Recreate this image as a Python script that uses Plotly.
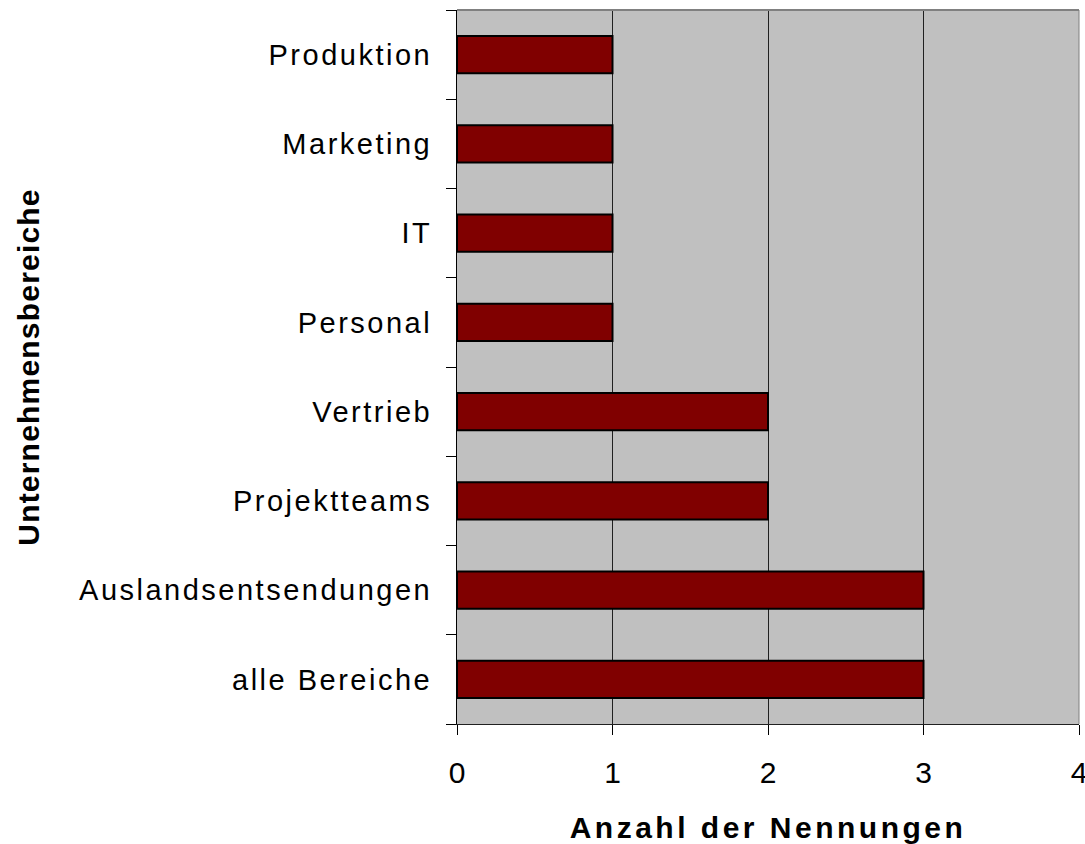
import plotly.graph_objects as go

# Company areas (bottom to top) and number of mentions
bereiche = [
    "alle Bereiche",
    "Auslandsentsendungen",
    "Projektteams",
    "Vertrieb",
    "Personal",
    "IT",
    "Marketing",
    "Produktion",
]
nennungen = [3, 3, 2, 2, 1, 1, 1, 1]
x_ticks = [0, 1, 2, 3, 4]

FONT = "Liberation Sans, Arial, sans-serif"

fig = go.Figure(
    go.Bar(
        x=nennungen,
        y=bereiche,
        orientation="h",
        width=0.42,
        marker=dict(color="#800000", line=dict(color="#000000", width=2)),
        hoverinfo="x+y",
    )
)

fig.update_layout(
    width=1085,
    height=844,
    margin=dict(l=457, r=6, t=10, b=120),
    paper_bgcolor="white",
    plot_bgcolor="#C0C0C0",
    showlegend=False,
    font=dict(family=FONT, color="black"),
)

fig.update_xaxes(
    range=[0, 4],
    tickvals=x_ticks,
    ticktext=[str(v) for v in x_ticks],
    automargin=False,
    showgrid=True,
    gridcolor="#202020",
    gridwidth=1,
    zeroline=False,
    showline=True,
    linecolor="#202020",
    linewidth=1,
    ticks="outside",
    ticklen=10,
    tickcolor="#000000",
    ticklabelstandoff=12,
    ticklabeloverflow="allow",
    tickfont=dict(size=30, family=FONT),
    title=dict(
        text="<b>Anzahl der Nennungen</b>",
        font=dict(size=30, family=FONT),
        standoff=28,
    ),
)

fig.update_yaxes(
    categoryorder="array",
    categoryarray=bereiche,
    automargin=False,
    showgrid=False,
    zeroline=False,
    showline=True,
    linecolor="#000000",
    linewidth=1,
    ticks="outside",
    tickson="boundaries",
    ticklen=10,
    tickcolor="#000000",
    ticklabelstandoff=18,
    tickfont=dict(size=29, family=FONT),
    title=dict(
        text="<b>Unternehmensbereiche</b>",
        font=dict(size=30, family=FONT),
        standoff=80,
    ),
)

# gray frame line along the top of the plot area
fig.add_shape(
    type="line", xref="paper", yref="paper",
    x0=0, x1=1, y0=1, y1=1,
    line=dict(color="#808080", width=2),
)
# gray edge line on the right of the plot area
fig.add_shape(
    type="line", xref="paper", yref="paper",
    x0=1, x1=1, y0=0, y1=1,
    line=dict(color="#808080", width=1),
)

# widen the letter spacing of the axis texts
spacing_js = """
var gd = document.getElementById('{plot_id}');
function spaceOut() {
  gd.querySelectorAll('.ytick text').forEach(function (t) { t.style.letterSpacing = '2.5px'; });
  gd.querySelectorAll('.g-xtitle text').forEach(function (t) { t.style.letterSpacing = '3.5px'; });
  gd.querySelectorAll('.g-ytitle text').forEach(function (t) { t.style.letterSpacing = '1.2px'; });
}
spaceOut();
gd.on('plotly_afterplot', spaceOut);
"""

fig.write_html("out.html", post_script=spacing_js)
